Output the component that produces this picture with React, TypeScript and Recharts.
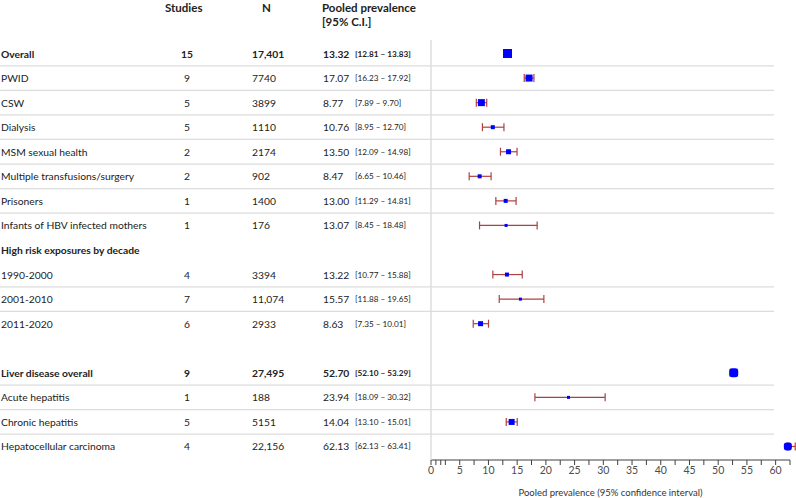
import React from 'react';
import { ScatterChart, Scatter, XAxis, YAxis, ErrorBar } from 'recharts';

// ---- data ----
const LABELS = [
  'Overall', 'PWID', 'CSW', 'Dialysis', 'MSM sexual health', 'Multiple transfusions/surgery',
  'Prisoners', 'Infants of HBV infected mothers', 'High risk exposures by decade',
  '1990-2000', '2001-2010', '2011-2020', '', 'Liver disease overall', 'Acute hepatitis',
  'Chronic hepatitis', 'Hepatocellular carcinoma',
];
const STUDIES = ['15', '9', '5', '5', '2', '2', '1', '1', '', '4', '7', '6', '', '9', '1', '5', '4'];
const N_VALUES = ['17,401', '7740', '3899', '1110', '2174', '902', '1400', '176', '', '3394', '11,074', '2933', '', '27,495', '188', '5151', '22,156'];
const ESTIMATES: (number | null)[] = [13.32, 17.07, 8.77, 10.76, 13.5, 8.47, 13.0, 13.07, null, 13.22, 15.57, 8.63, null, 52.7, 23.94, 14.04, 62.13];
const LOWER: (number | null)[] = [12.81, 16.23, 7.89, 8.95, 12.09, 6.65, 11.29, 8.45, null, 10.77, 11.88, 7.35, null, 52.1, 18.09, 13.1, 62.13];
const UPPER: (number | null)[] = [13.83, 17.92, 9.7, 12.7, 14.98, 10.46, 14.81, 18.48, null, 15.88, 19.65, 10.01, null, 53.29, 30.32, 15.01, 63.41];
const BOLD_ROWS = [0, 8, 13];
const SEPARATOR_AFTER = [0, 1, 2, 3, 4, 5, 6, 9, 10, 13, 14, 15];
const X_TICKS = [0, 0.85, 1.7, 2.5, 5, 7.5, 10, 12.5, 15, 17.5, 20, 22.5, 25, 27.5, 30, 32.5, 35, 37.5, 40, 42.5, 45, 47.5, 50, 52.5, 55, 57.5, 60, 62.5];

// ---- styles ----
const MARKER_SIZES = [9, 7, 7, 4, 5, 4, 4, 3, 0, 4, 3, 5, 0, 9, 3, 6, 8];
const ROUNDED = [13, 16];
const TEXT = '#222222';
const FONT = 'Lato, "Open Sans", sans-serif';
const ROW_HALF = 12.28;
const FS = 10.3;

const data = ESTIMATES.map((est, i) =>
  est == null
    ? null
    : {
        row: i,
        est,
        err: [est - (LOWER[i] as number), (UPPER[i] as number) - est],
        size: MARKER_SIZES[i],
        rounded: ROUNDED.includes(i),
      }
).filter(Boolean) as any[];

function RowTick(props: any) {
  const { y, payload } = props;
  const i = payload.value as number;
  const bold = BOLD_ROWS.includes(i);
  const w = bold ? 700 : 400;
  const est = ESTIMATES[i];
  const common = { y, dominantBaseline: 'central', fontSize: FS, fontWeight: w, fill: TEXT, fontFamily: FONT } as any;
  return (
    <g>
      {SEPARATOR_AFTER.includes(i) && (
        <line x1={0} x2={774} y1={y + ROW_HALF} y2={y + ROW_HALF} stroke="#dcdcdc" strokeWidth={1.3} />
      )}
      <text x={1} {...common}>{LABELS[i]}</text>
      <text x={187} textAnchor="middle" {...common}>{STUDIES[i]}</text>
      <text x={252} {...common}>{N_VALUES[i]}</text>
      {est != null && <text x={323} {...common}>{est.toFixed(2)}</text>}
      {est != null && (
        <text x={355} {...common} fontSize={8.2}>
          {`[${(LOWER[i] as number).toFixed(2)} – ${(UPPER[i] as number).toFixed(2)}]`}
        </text>
      )}
    </g>
  );
}

function Marker(props: any) {
  const { cx, cy, payload } = props;
  const s = payload.size;
  return (
    <rect
      x={cx - s / 2}
      y={cy - s / 2}
      width={s}
      height={s}
      rx={payload.rounded ? s / 3 : 0}
      fill="#0000ff"
    />
  );
}

const headerStyle: React.CSSProperties = {
  position: 'absolute',
  fontFamily: FONT,
  fontWeight: 700,
  fontSize: 11.5,
  color: TEXT,
  lineHeight: '14px',
  whiteSpace: 'nowrap',
};

export default function App() {
  return (
    <div style={{ position: 'absolute', left: 0, top: 0, width: 796, height: 498, background: '#fff', overflow: 'hidden' }}>
      <div style={{ ...headerStyle, left: 165, top: 1 }}>Studies</div>
      <div style={{ ...headerStyle, left: 262, top: 1 }}>N</div>
      <div style={{ ...headerStyle, left: 322, top: 1 }}>Pooled prevalence</div>
      <div style={{ ...headerStyle, left: 322, top: 15 }}>[95% C.I.]</div>
      <ScatterChart width={796} height={498} margin={{ top: 40, right: 6, bottom: 0, left: 0 }}>
        <XAxis
          xAxisId="main"
          type="number"
          dataKey="est"
          domain={[0, 62.5]}
          ticks={X_TICKS}
          interval={0}
          tickFormatter={(v: number) => (v % 5 === 0 ? String(v) : '')}
          tickSize={5}
          stroke="#404040"
          tick={{ fill: '#4d4d4d', fontSize: 10.5, fontFamily: FONT }}
          height={38}
          label={{
            value: 'Pooled prevalence (95% confidence interval)',
            position: 'insideBottom',
            offset: 2,
            fill: '#333333',
            fontSize: 9.5,
            fontFamily: FONT,
          }}
        />
        <XAxis
          xAxisId="err"
          orientation="top"
          height={0}
          type="number"
          dataKey="est"
          domain={[0, 62.5]}
          allowDataOverflow
          hide
        />
        <YAxis
          type="number"
          dataKey="row"
          domain={[-0.55, 16.55]}
          reversed
          ticks={LABELS.map((_, i) => i)}
          interval={0}
          width={431}
          tickLine={false}
          axisLine={{ stroke: '#d9d9d9', strokeWidth: 1.3 }}
          tick={<RowTick />}
        />
        <Scatter xAxisId="err" data={data} isAnimationActive={false} shape={() => <g />}>
          <ErrorBar dataKey="err" direction="x" width={4} stroke="#b04040" strokeWidth={1.2} />
        </Scatter>
        <Scatter xAxisId="main" data={data} isAnimationActive={false} shape={<Marker />} />
      </ScatterChart>
    </div>
  );
}
